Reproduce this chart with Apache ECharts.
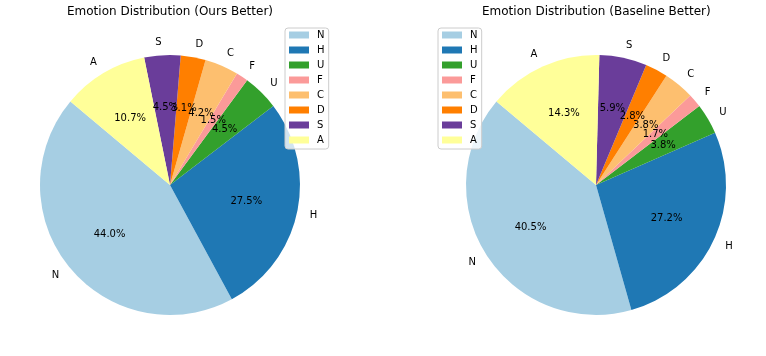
<!DOCTYPE html>
<html>
<head>
<meta charset="utf-8">
<script src="https://cdn.jsdelivr.net/npm/echarts@6/dist/echarts.min.js"></script>
<style>
  html, body { margin: 0; padding: 0; background: #fff; }
  #chart { width: 766px; height: 356px; }
</style>
</head>
<body>
<div id="chart"></div>
<script>
// emotion categories, in the order they are drawn (counter-clockwise from 140 deg)
const emotions = ['N', 'H', 'U', 'F', 'C', 'D', 'S', 'A'];
// share of each emotion, percent
const oursBetter = [44.0, 27.5, 4.5, 1.5, 4.2, 3.1, 4.5, 10.7];
const baselineBetter = [40.5, 27.2, 3.8, 1.7, 3.8, 2.8, 5.9, 14.3];
const titles = ['Emotion Distribution (Ours Better)', 'Emotion Distribution (Baseline Better)'];

const palette = ['#a6cee3', '#1f78b4', '#33a02c', '#fb9a99', '#fdbf6f', '#ff7f00', '#6a3d9a', '#ffff99'];
const font = 'DejaVu Sans';
const R = 130;

const chart = echarts.init(document.getElementById('chart'));

function toData(values) {
    return emotions.map((name, i) => ({ name: name, value: values[i] }));
}

// visible pie with the names outside
function namePie(values, center) {
    return {
        type: 'pie',
        center: center,
        radius: [0, R],
        startAngle: 140,
        clockwise: false,
        avoidLabelOverlap: false,
        silent: true,
        emphasis: { disabled: true },
        itemStyle: { borderWidth: 0 },
        label: {
            show: true,
            position: 'outside',
            formatter: '{b}',
            fontFamily: font,
            fontSize: 10,
            color: '#000',
            distanceToLabelLine: 0
        },
        labelLine: { show: false, length: 13, length2: 0 },
        labelLayout: { hideOverlap: false },
        data: toData(values)
    };
}

// invisible copy that only carries the percentages (sits at 0.6 R)
function pctPie(values, center) {
    return {
        type: 'pie',
        center: center,
        radius: [0, 150],
        startAngle: 140,
        clockwise: false,
        avoidLabelOverlap: false,
        silent: true,
        emphasis: { disabled: true },
        itemStyle: { color: 'rgba(0,0,0,0)', borderWidth: 0 },
        label: {
            show: true,
            position: 'inside',
            formatter: p => p.value.toFixed(1) + '%',
            fontFamily: font,
            fontSize: 10,
            color: '#000'
        },
        labelLine: { show: false },
        labelLayout: { hideOverlap: false },
        data: toData(values)
    };
}

function legendAt(left) {
    return {
        orient: 'vertical',
        left: left,
        top: 28,
        padding: [1, 4, 3, 4],
        itemWidth: 20,
        itemHeight: 7,
        itemGap: 3,
        icon: 'rect',
        selectedMode: false,
        backgroundColor: 'rgba(255,255,255,0.8)',
        borderColor: '#cccccc',
        borderWidth: 1,
        borderRadius: 3,
        textStyle: { fontFamily: font, fontSize: 10, color: '#000', lineHeight: 12, padding: [0, 0, 0, 3] },
        data: emotions
    };
}

chart.setOption({
    animation: false,
    color: palette,
    title: [
        { text: titles[0], left: 67, top: 6, padding: 0,
          textStyle: { fontFamily: font, fontSize: 12, fontWeight: 'normal', color: '#000' } },
        { text: titles[1], left: 482, top: 6, padding: 0,
          textStyle: { fontFamily: font, fontSize: 12, fontWeight: 'normal', color: '#000' } }
    ],
    legend: [legendAt(285), legendAt(438)],
    series: [
        namePie(oursBetter, [170, 185]),
        namePie(baselineBetter, [596, 185]),
        pctPie(oursBetter, [170, 185]),
        pctPie(baselineBetter, [596, 185])
    ]
});
</script>
</body>
</html>
